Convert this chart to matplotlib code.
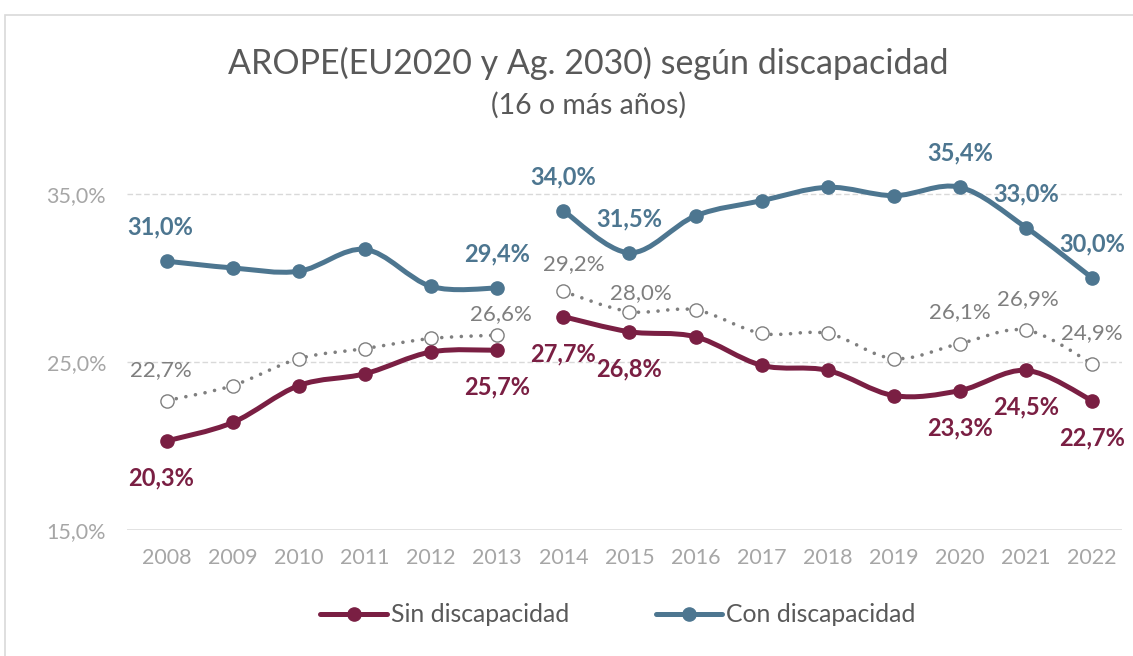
import matplotlib
matplotlib.use("Agg")
import matplotlib.pyplot as plt
from matplotlib.path import Path
from matplotlib.patches import PathPatch, Rectangle
from matplotlib.lines import Line2D

plt.rcParams['font.family'] = ['Lato', 'DejaVu Sans']

years = ['2008', '2009', '2010', '2011', '2012', '2013', '2014', '2015',
         '2016', '2017', '2018', '2019', '2020', '2021', '2022']
sin_disc = [20.3, 21.4, 23.6, 24.3, 25.6, 25.7, 27.7, 26.8, 26.5, 24.8, 24.5, 23.0, 23.3, 24.5, 22.7]
con_disc = [31.0, 30.6, 30.4, 31.7, 29.5, 29.4, 34.0, 31.5, 33.7, 34.6, 35.4, 34.9, 35.4, 33.0, 30.0]
total = [22.7, 23.6, 25.2, 25.8, 26.4, 26.6, 29.2, 28.0, 28.1, 26.7, 26.7, 25.2, 26.1, 26.9, 24.9]
# series break between 2013 and 2014
segments = [(0, 6), (6, 15)]

labels_con = {0: 31.0, 5: 29.4, 6: 34.0, 7: 31.5, 12: 35.4, 13: 33.0, 14: 30.0}
labels_sin = {0: 20.3, 5: 25.7, 6: 27.7, 7: 26.8, 12: 23.3, 13: 24.5, 14: 22.7}
labels_tot = {0: 22.7, 5: 26.6, 6: 29.2, 7: 28.0, 12: 26.1, 13: 26.9, 14: 24.9}

C_SIN = '#7A1F43'
C_CON = '#4D7690'
C_TOT = '#7F7F7F'
C_TXT = '#595959'
C_TICK = '#A6A6A6'
C_GRID = '#D9D9D9'


def smooth_path(xs, ys):
    n = len(xs)
    verts = [(xs[0], ys[0])]
    codes = [Path.MOVETO]
    for i in range(n - 1):
        x0, y0 = (xs[i - 1], ys[i - 1]) if i > 0 else (xs[i], ys[i])
        x1, y1 = xs[i], ys[i]
        x2, y2 = xs[i + 1], ys[i + 1]
        x3, y3 = (xs[i + 2], ys[i + 2]) if i + 2 < n else (xs[i + 1], ys[i + 1])
        c1 = (x1 + (x2 - x0) / 6.0, y1 + (y2 - y0) / 6.0)
        c2 = (x2 - (x3 - x1) / 6.0, y2 - (y3 - y1) / 6.0)
        verts += [c1, c2, (x2, y2)]
        codes += [Path.CURVE4] * 3
    return Path(verts, codes)


fig = plt.figure(figsize=(11.33, 6.56), dpi=100)
fig.patches.append(Rectangle((5 / 1133, -0.05), 1.2, (1 - 15 / 656) + 0.05,
                             transform=fig.transFigure, fill=False,
                             edgecolor=C_GRID, lw=1.2, zorder=0))

ax = fig.add_axes([127 / 1133, 1 - 530 / 656, (1122 - 127) / 1133, (530 - 110) / 656])
ax.set_xlim(-0.6, 14.45)
ax.set_ylim(15, 40)

xs = list(range(len(years)))

for s, e in segments:
    sx = xs[s:e]
    p = PathPatch(smooth_path(sx, total[s:e]), fill=False, edgecolor=C_TOT,
                  lw=2.6, linestyle=(0, (0.01, 2.7)), capstyle='round', zorder=2)
    ax.add_patch(p)
    for vals, col in ((sin_disc, C_SIN), (con_disc, C_CON)):
        p = PathPatch(smooth_path(sx, vals[s:e]), fill=False, edgecolor=col,
                      lw=3.6, capstyle='round', joinstyle='round', zorder=3)
        ax.add_patch(p)

ax.plot(xs, total, linestyle='none', marker='o', markersize=9.5,
        markerfacecolor='white', markeredgecolor=C_TOT, markeredgewidth=1.0, zorder=4)
ax.plot(xs, sin_disc, linestyle='none', marker='o', markersize=9.5,
        color=C_SIN, zorder=5)
ax.plot(xs, con_disc, linestyle='none', marker='o', markersize=9.5,
        color=C_CON, zorder=5)


def fmt(v):
    return f"{v:.1f}%".replace('.', ',')


PX = 0.72  # points per pixel at 100 dpi
first_dx = -6
for i, v in labels_con.items():
    dx = first_dx if i == 0 else 0
    ax.annotate(fmt(v), (xs[i], con_disc[i]), xytext=(dx * PX, 34 * PX), textcoords='offset points',
                ha='center', va='center', fontsize=17, fontweight='bold', color=C_CON, zorder=6)
for i, v in labels_sin.items():
    dx = first_dx if i == 0 else 0
    ax.annotate(fmt(v), (xs[i], sin_disc[i]), xytext=(dx * PX, -37 * PX), textcoords='offset points',
                ha='center', va='center', fontsize=17, fontweight='bold', color=C_SIN, zorder=6)
tot_off = {0: (-6, 31), 5: (4, 21), 6: (10, 27), 7: (11, 19), 12: (0, 31), 13: (2, 31), 14: (0, 31)}
for i, v in labels_tot.items():
    dx, dy = tot_off[i]
    ax.annotate(fmt(v), (xs[i], total[i]), xytext=(dx * PX, dy * PX), textcoords='offset points',
                ha='center', va='center', fontsize=16, color=C_TOT, zorder=6)

ax.set_yticks([15, 25, 35])
ax.set_yticklabels([fmt(t) for t in [15.0, 25.0, 35.0]])
ax.set_xticks(xs)
ax.set_xticklabels(years)
ax.tick_params(axis='both', length=0, labelsize=15.5, labelcolor=C_TICK)
ax.tick_params(axis='y', pad=15)
ax.tick_params(axis='x', pad=13)
for sp in ax.spines.values():
    sp.set_visible(False)
ax.axhline(15, color=C_GRID, lw=1.8, zorder=1)
for g in (25, 35):
    ax.axhline(g, color=C_GRID, lw=1.0, linestyle=(0, (4, 2)), zorder=1)
ax.patch.set_alpha(0)

fig.text(588 / 1133, 1 - 63 / 656, 'AROPE(EU2020 y Ag. 2030) según discapacidad',
         ha='center', va='center', fontsize=24.5, color=C_TXT)
fig.text(588 / 1133, 1 - 105 / 656, '(16 o más años)',
         ha='center', va='center', fontsize=20.5, color=C_TXT)

handles = [Line2D([0], [0], color=C_SIN, lw=3.6, marker='o', markersize=9.5, solid_capstyle='round'),
           Line2D([0], [0], color=C_CON, lw=3.6, marker='o', markersize=9.5, solid_capstyle='round')]
leg = fig.legend(handles, ['Sin discapacidad', 'Con discapacidad'], loc='center',
                 bbox_to_anchor=(618 / 1133, 1 - 615 / 656), ncol=2, frameon=False,
                 fontsize=17.8, handlelength=2.7, handletextpad=0.15, columnspacing=3.5)
for t in leg.get_texts():
    t.set_color(C_TXT)

fig.savefig('out.png', dpi=100)
